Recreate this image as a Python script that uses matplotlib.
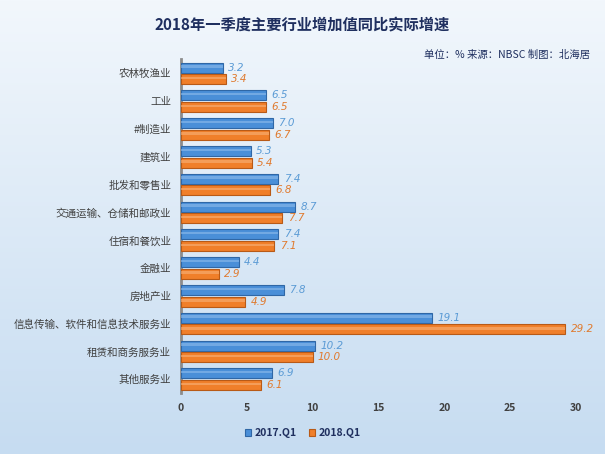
import numpy as np
import matplotlib
matplotlib.use("Agg")
import matplotlib.pyplot as plt
from matplotlib.colors import LinearSegmentedColormap

plt.rcParams['font.family'] = ['Noto Sans CJK SC', 'DejaVu Sans']

categories = ["农林牧渔业", "工业", "#制造业", "建筑业", "批发和零售业",
              "交通运输、仓储和邮政业", "住宿和餐饮业", "金融业", "房地产业",
              "信息传输、软件和信息技术服务业", "租赁和商务服务业", "其他服务业"]
q2017 = [3.2, 6.5, 7.0, 5.3, 7.4, 8.7, 7.4, 4.4, 7.8, 19.1, 10.2, 6.9]
q2018 = [3.4, 6.5, 6.7, 5.4, 6.8, 7.7, 7.1, 2.9, 4.9, 29.2, 10.0, 6.1]
xticks = [0, 5, 10, 15, 20, 25, 30]

fig = plt.figure(figsize=(6.05, 4.54), dpi=100)
# background gradient
bg = fig.add_axes([0, 0, 1, 1], zorder=-10)
grad = np.linspace(0, 1, 256).reshape(-1, 1)
cmap = LinearSegmentedColormap.from_list("bg", ["#f2f7fc", "#c6dcf1"])
bg.imshow(grad, aspect='auto', cmap=cmap, extent=[0, 1, 0, 1], origin='upper')
bg.axis('off')

ax = fig.add_axes([0.299, 0.134, 0.653, 0.735])
ax.patch.set_alpha(0)
n = len(categories)
y = np.arange(n)
h = 0.36
off = 0.21
blue, orange = "#4a8fd8", "#f07f2a"
ax.barh(y - off, q2017, height=h, color=blue, edgecolor="#2f67a6", linewidth=0.8, label="2017.Q1", zorder=3)
ax.barh(y + off, q2018, height=h, color=orange, edgecolor="#b85a17", linewidth=0.8, label="2018.Q1", zorder=3)
# highlight strips for 3D look
ax.barh(y - off - h*0.12, q2017, height=h*0.25, color="#8dbbec", linewidth=0, zorder=4, alpha=0.6)
ax.barh(y + off - h*0.12, q2018, height=h*0.25, color="#f8b27a", linewidth=0, zorder=4, alpha=0.6)

for yi, v in zip(y, q2017):
    ax.text(v + 0.4, yi - off, f"{v:.1f}", va='center', ha='left', fontsize=7.5,
            style='italic', color="#5b9bd5", family='DejaVu Sans')
for yi, v in zip(y, q2018):
    ax.text(v + 0.4, yi + off, f"{v:.1f}", va='center', ha='left', fontsize=7.5,
            style='italic', color="#e07a2e", family='DejaVu Sans')

ax.set_ylim(n - 0.5, -0.5)
ax.set_xlim(0, 30)
ax.set_yticks(y)
ax.set_yticklabels(categories, fontsize=7.6, color="#404040")
ax.set_xticks(xticks)
ax.set_xticklabels([str(t) for t in xticks], fontsize=7.5, fontweight='bold', color="#404040")
ax.tick_params(axis='both', length=0)
ax.tick_params(axis='x', pad=7)
ax.tick_params(axis='y', pad=7)
for s in ['top', 'right', 'bottom']:
    ax.spines[s].set_visible(False)
ax.spines['left'].set_color("#8c8c8c")
ax.spines['left'].set_linewidth(2)

fig.text(0.5, 0.945, "2018年一季度主要行业增加值同比实际增速", ha='center', va='center',
         fontsize=11, fontweight='bold', color="#1f2f5f")
fig.text(0.975, 0.878, "单位：% 来源：NBSC 制图：北海居", ha='right', va='center',
         fontsize=7.5, style='italic', color="#1f2f5f")

leg = fig.legend(handles=ax.containers[:2], labels=["2017.Q1", "2018.Q1"],
                 loc='center', bbox_to_anchor=(0.5, 0.046), ncol=2, frameon=False,
                 fontsize=7.5, handlelength=0.6, handleheight=0.6, columnspacing=1.2,
                 handletextpad=0.3)
for t in leg.get_texts():
    t.set_color("#1f2f5f")
    t.set_fontweight('bold')

fig.savefig("out.png", dpi=100)
